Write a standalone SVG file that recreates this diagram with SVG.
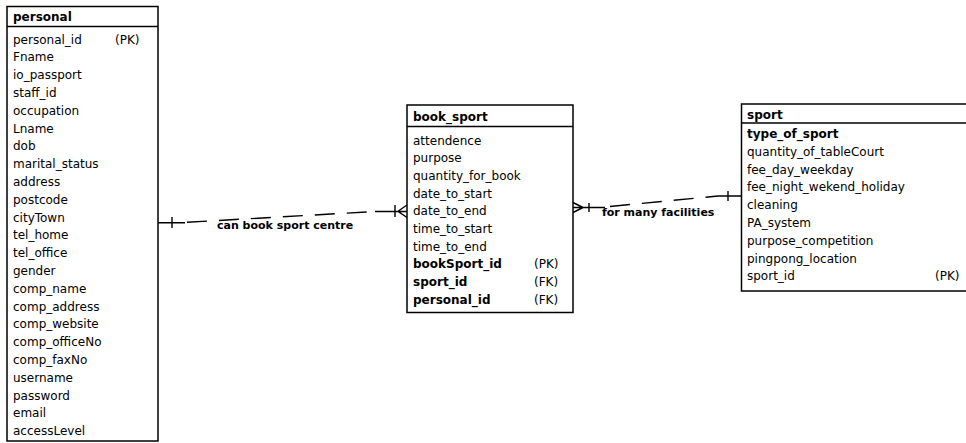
<svg xmlns="http://www.w3.org/2000/svg" width="966" height="443" viewBox="0 0 966 443">
<style>
.box{fill:#fff;stroke:#000;stroke-width:1.5}
.div{stroke:#000;stroke-width:1.5}
text{font-family:"DejaVu Sans","Liberation Sans",sans-serif;font-size:12px;fill:#000}
.b{font-weight:bold}
.lbl{font-size:11px;font-weight:bold}
.ln{stroke:#000;stroke-width:1.4;fill:none}
.dash{stroke:#000;stroke-width:1.4;fill:none;stroke-dasharray:20 12}
</style>
<rect width="966" height="443" fill="#fff"/>
<g id="connectors">
  <g id="c1">
    <path class="ln" d="M158,222.7 H185 M172,217 V228"/>
    <path class="dash" d="M187,222.3 L375,211.5"/>
    <path class="ln" d="M375,211.5 H407 M395,205 V217 M398,211.3 L407,205 M398,211.3 L407,217.5"/>
    <text class="lbl" x="217" y="229">can book sport centre</text>
  </g>
  <g id="c2">
    <path class="ln" d="M573,207.5 H605 M583,207.5 L573,202.5 M583,207.5 L573,212.5 M589,203 V212"/>
    <path class="dash" d="M610,206.5 L718,196"/>
    <path class="ln" d="M718,196 H741.5 M728,191 V201"/>
    <text class="lbl" x="602" y="216">for many facilities</text>
  </g>
</g>
<g id="personal">
  <rect class="box" x="7" y="6.5" width="151" height="434.5"/>
  <line class="div" x1="7" y1="26.5" x2="158" y2="26.5"/>
  <text class="b" x="13" y="21">personal</text>
  <text x="13" y="43.5">personal_id</text><text x="115" y="43.5">(PK)</text>
  <text x="13" y="61.3">Fname</text>
  <text x="13" y="79.1">io_passport</text>
  <text x="13" y="96.9">staff_id</text>
  <text x="13" y="114.7">occupation</text>
  <text x="13" y="132.5">Lname</text>
  <text x="13" y="150.3">dob</text>
  <text x="13" y="168.1">marital_status</text>
  <text x="13" y="185.9">address</text>
  <text x="13" y="203.7">postcode</text>
  <text x="13" y="221.5">cityTown</text>
  <text x="13" y="239.3">tel_home</text>
  <text x="13" y="257.1">tel_office</text>
  <text x="13" y="274.9">gender</text>
  <text x="13" y="292.7">comp_name</text>
  <text x="13" y="310.5">comp_address</text>
  <text x="13" y="328.3">comp_website</text>
  <text x="13" y="346.1">comp_officeNo</text>
  <text x="13" y="363.9">comp_faxNo</text>
  <text x="13" y="381.7">username</text>
  <text x="13" y="399.5">password</text>
  <text x="13" y="417.3">email</text>
  <text x="13" y="435.1">accessLevel</text>
</g>
<g id="book_sport">
  <rect class="box" x="407" y="105" width="166" height="207.5"/>
  <line class="div" x1="407" y1="126.5" x2="573" y2="126.5"/>
  <text class="b" x="413" y="120.7">book_sport</text>
  <text x="413" y="144.5">attendence</text>
  <text x="413" y="162.2">purpose</text>
  <text x="413" y="179.9">quantity_for_book</text>
  <text x="413" y="197.6">date_to_start</text>
  <text x="413" y="215.3">date_to_end</text>
  <text x="413" y="233">time_to_start</text>
  <text x="413" y="250.7">time_to_end</text>
  <text class="b" x="413" y="268.4">bookSport_id</text><text x="534" y="268.4">(PK)</text>
  <text class="b" x="413" y="286.1">sport_id</text><text x="534" y="286.1">(FK)</text>
  <text class="b" x="413" y="303.8">personal_id</text><text x="534" y="303.8">(FK)</text>
</g>
<g id="sport">
  <rect class="box" x="741.5" y="104" width="230" height="187"/>
  <line class="div" x1="741.5" y1="123" x2="966" y2="123"/>
  <text class="b" x="747" y="119">sport</text>
  <text class="b" x="747" y="138">type_of_sport</text>
  <text x="747" y="155.8">quantity_of_tableCourt</text>
  <text x="747" y="173.6">fee_day_weekday</text>
  <text x="747" y="191.4">fee_night_wekend_holiday</text>
  <text x="747" y="209.2">cleaning</text>
  <text x="747" y="227">PA_system</text>
  <text x="747" y="244.8">purpose_competition</text>
  <text x="747" y="262.6">pingpong_location</text>
  <text x="747" y="280.4">sport_id</text><text x="935" y="280.4">(PK)</text>
</g>
</svg>
